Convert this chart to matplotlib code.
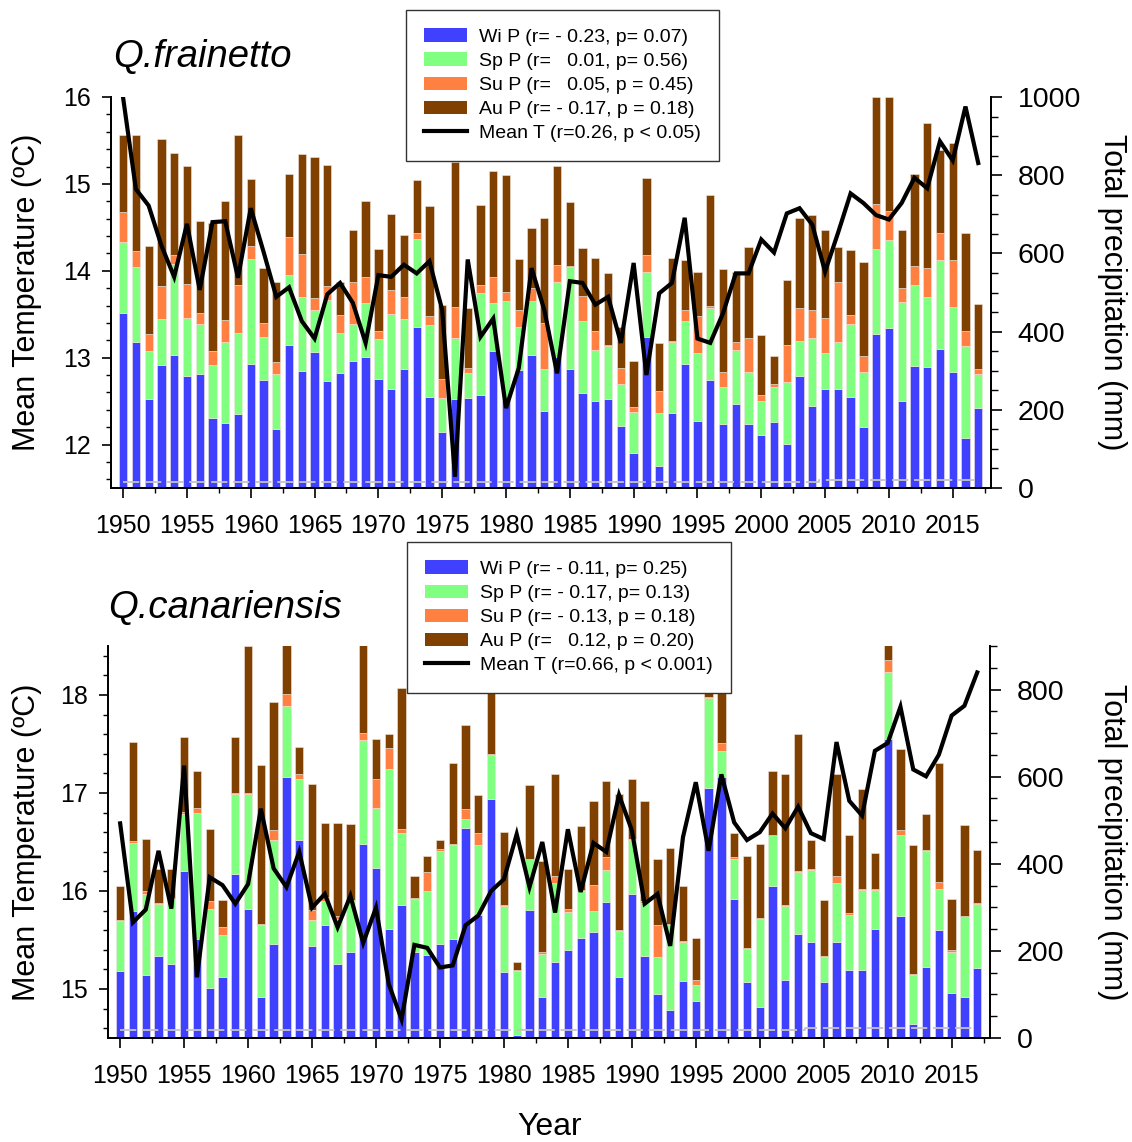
import numpy as np
import matplotlib
matplotlib.use('Agg')
import matplotlib.pyplot as plt
from matplotlib.ticker import MultipleLocator
from matplotlib.patches import Patch
from matplotlib.lines import Line2D

plt.rcParams['font.family'] = ['Liberation Sans', 'DejaVu Sans']

years = np.arange(1950, 2018)

# ---------------- Q. frainetto ----------------
wi_f = [448, 374, 228, 315, 339, 286, 292, 178, 165, 188,
        316, 276, 150, 367, 298, 348, 274, 295, 326, 334,
        280, 254, 304, 411, 234, 144, 227, 231, 237, 350,
        225, 303, 339, 196, 336, 304, 242, 223, 228, 159,
        90, 387, 55, 191, 316, 172, 276, 164, 215, 164,
        136, 170, 112, 286, 210, 253, 253, 233, 157, 393,
        408, 222, 313, 309, 356, 296, 127, 204]
sp_f = [180, 190, 122, 117, 234, 149, 127, 137, 209, 209,
        270, 111, 142, 179, 191, 107, 207, 102, 93, 140,
        101, 190, 128, 225, 182, 87, 157, 62, 261, 124,
        252, 110, 138, 108, 192, 260, 185, 130, 135, 106,
        105, 166, 136, 183, 111, 174, 185, 95, 138, 132,
        87, 89, 158, 90, 174, 91, 121, 186, 139, 218,
        226, 254, 206, 179, 227, 166, 236, 88]
su_f = [77, 43, 43, 85, 23, 87, 29, 35, 56, 122,
        34, 34, 29, 95, 109, 30, 36, 45, 109, 66,
        21, 62, 56, 15, 24, 48, 80, 15, 21, 66,
        24, 41, 34, 117, 42, 4, 64, 49, 3, 43,
        11, 43, 58, 3, 28, 94, 5, 37, 21, 88,
        15, 6, 96, 85, 70, 91, 154, 23, 42, 115,
        74, 36, 49, 74, 68, 121, 39, 12]
au_f = [199, 297, 227, 376, 262, 302, 236, 327, 304, 385,
        170, 141, 207, 162, 256, 361, 309, 86, 132, 194,
        208, 196, 159, 137, 281, 189, 371, 153, 205, 272,
        299, 132, 155, 269, 254, 163, 124, 185, 185, 105,
        120, 196, 121, 210, 128, 113, 283, 263, 179, 233,
        153, 73, 166, 230, 243, 225, 89, 167, 239, 273,
        291, 148, 235, 371, 213, 300, 249, 167]
t_f = [15.99, 14.94, 14.75, 14.29, 13.93, 14.54, 13.78, 14.56, 14.57, 13.92,
       14.72, 14.22, 13.70, 13.81, 13.42, 13.22, 13.73, 13.86, 13.63, 13.17,
       13.95, 13.93, 14.07, 13.97, 14.11, 13.55, 11.63, 14.13, 13.24, 13.45,
       12.42, 12.88, 14.03, 13.55, 12.82, 13.88, 13.86, 13.61, 13.70, 13.17,
       14.09, 12.80, 13.74, 13.86, 14.61, 13.22, 13.17, 13.51, 13.97, 13.97,
       14.36, 14.21, 14.66, 14.72, 14.53, 13.99, 14.43, 14.89, 14.78, 14.64,
       14.59, 14.78, 15.07, 14.95, 15.49, 15.27, 15.89, 15.24]
ref_f_x = [1950, 2004.5, 2004.5, 2017]
ref_f_y = [16, 16, 20, 20]
leg_f = ["Wi P (r= - 0.23, p= 0.07)",
         "Sp P (r=   0.01, p= 0.56)",
         "Su P (r=   0.05, p = 0.45)",
         "Au P (r= - 0.17, p = 0.18)",
         "Mean T (r=0.26, p < 0.05)"]

# ---------------- Q. canariensis ----------------
wi_c = [154, 292, 144, 188, 169, 384, 227, 115, 141, 376,
        296, 94, 215, 599, 455, 211, 260, 169, 198, 445,
        390, 250, 305, 197, 190, 215, 227, 482, 283, 549,
        152, 8, 293, 94, 175, 202, 230, 243, 313, 141,
        330, 188, 100, 64, 132, 84, 574, 599, 320, 128,
        71, 348, 133, 238, 221, 128, 221, 157, 155, 250,
        687, 279, 31, 164, 247, 104, 94, 161]
sp_c = [115, 156, 186, 119, 150, 131, 290, 181, 96, 185,
        265, 166, 240, 163, 140, 60, 55, 105, 117, 240,
        138, 368, 166, 123, 148, 215, 215, 20, 159, 100,
        150, 146, 118, 98, 181, 88, 108, 49, 73, 105,
        125, 123, 86, 195, 89, 37, 206, 61, 92, 77,
        203, 117, 170, 144, 165, 59, 134, 126, 185, 90,
        154, 188, 113, 265, 96, 93, 185, 146]
su_c = [2, 5, 8, 2, 2, 3, 11, 19, 18, 2,
        2, 2, 23, 27, 10, 22, 8, 6, 2, 16,
        66, 48, 9, 2, 44, 4, 3, 23, 29, 2,
        3, 2, 1, 5, 15, 6, 2, 60, 30, 2,
        2, 4, 73, 2, 2, 13, 2, 18, 4, 2,
        2, 2, 2, 2, 2, 2, 16, 3, 3, 3,
        27, 11, 2, 2, 16, 4, 2, 4]
au_c = [77, 227, 119, 80, 67, 173, 84, 165, 62, 127,
        338, 365, 294, 113, 62, 291, 171, 214, 175, 201,
        93, 31, 324, 49, 35, 21, 187, 193, 88, 149,
        167, 18, 170, 210, 234, 93, 146, 193, 175, 313,
        138, 228, 153, 175, 125, 96, 30, 152, 54, 210,
        169, 147, 302, 315, 67, 127, 234, 181, 229, 81,
        34, 185, 297, 84, 273, 118, 207, 121]
t_c = [16.69, 15.68, 15.81, 16.41, 15.82, 17.28, 15.12, 16.14, 16.06, 15.87,
       16.07, 16.84, 16.23, 16.04, 16.40, 15.83, 15.97, 15.63, 15.95, 15.47,
       15.83, 15.05, 14.69, 15.45, 15.42, 15.22, 15.24, 15.65, 15.75, 16.00,
       16.12, 16.58, 16.04, 16.50, 15.78, 16.63, 15.99, 16.49, 16.40, 16.98,
       16.62, 15.87, 15.97, 15.44, 16.55, 17.11, 16.41, 17.19, 16.70, 16.52,
       16.60, 16.79, 16.64, 16.86, 16.59, 16.53, 17.52, 16.92, 16.77, 17.43,
       17.51, 17.88, 17.24, 17.17, 17.39, 17.79, 17.89, 18.23]
ref_c_x = [1950, 2003.5, 2003.5, 2017]
ref_c_y = [19, 19, 23, 23]
leg_c = ["Wi P (r= - 0.11, p= 0.25)",
         "Sp P (r= - 0.17, p= 0.13)",
         "Su P (r= - 0.13, p = 0.18)",
         "Au P (r=   0.12, p = 0.20)",
         "Mean T (r=0.66, p < 0.001)"]

C_WI, C_SP, C_SU, C_AU = '#4040FF', '#80FF80', '#FF8040', '#804000'

W, H = 1132, 1142
fig = plt.figure(figsize=(W / 100, H / 100), dpi=100)


def px_rect(l, t, r, b):
    return [l / W, 1 - b / H, (r - l) / W, (b - t) / H]


def panel(rect, wi, sp, su, au, temp, rx, ry, tlim, tticks, plim, pticks):
    axp = fig.add_axes(rect)
    axt = axp.twinx()
    wi = np.array(wi); sp = np.array(sp); su = np.array(su); au = np.array(au)
    bw = 0.65
    ekw = dict(edgecolor='#f0e6dc', linewidth=0.4)
    axp.bar(years, wi, bw, color=C_WI, **ekw)
    axp.bar(years, sp, bw, bottom=wi, color=C_SP, **ekw)
    axp.bar(years, su, bw, bottom=wi + sp, color=C_SU, **ekw)
    axp.bar(years, au, bw, bottom=wi + sp + su, color=C_AU, **ekw)
    axp.plot(rx, ry, color='#c4c4c4', lw=1.3, ls=(0, (9, 3.2)))
    axt.plot(years, temp, color='black', lw=3.0, solid_joinstyle='miter')

    axp.set_xlim(1949.05, 2018)
    axp.set_ylim(*plim)
    axt.set_ylim(*tlim)

    axp.yaxis.tick_right()
    axp.yaxis.set_label_position('right')
    axt.yaxis.tick_left()
    axt.yaxis.set_label_position('left')

    axp.xaxis.set_major_locator(MultipleLocator(5))
    axp.xaxis.set_minor_locator(MultipleLocator(2.5))
    axp.set_yticks(pticks)
    axp.yaxis.set_minor_locator(MultipleLocator(50))
    axt.set_yticks(tticks)
    axt.yaxis.set_minor_locator(MultipleLocator(0.2))

    for a in (axp, axt):
        a.spines['top'].set_visible(False)
        for s in ('left', 'right', 'bottom'):
            a.spines[s].set_linewidth(1.3)
    axp.tick_params(axis='x', which='major', direction='out', length=7, width=1.2,
                    labelsize=18, pad=12)
    axp.tick_params(axis='x', which='minor', direction='out', length=3.5, width=1.0)
    axp.tick_params(axis='y', which='major', direction='out', length=8, width=1.2,
                    labelsize=20.5, pad=11)
    axp.tick_params(axis='y', which='minor', direction='out', length=4.8, width=1.0)
    axt.tick_params(axis='y', which='major', direction='out', length=6.5, width=1.2,
                    labelsize=18, pad=8)
    axt.tick_params(axis='y', which='minor', direction='out', length=3.5, width=1.0)
    return axp, axt


panel(px_rect(111, 97, 991, 488), wi_f, sp_f, su_f, au_f, t_f, ref_f_x, ref_f_y,
      (11.5, 16.0), [12, 13, 14, 15, 16], (0, 1000), [0, 200, 400, 600, 800, 1000])
panel(px_rect(108, 646, 990, 1038), wi_c, sp_c, su_c, au_c, t_c, ref_c_x, ref_c_y,
      (14.5, 18.5), [15, 16, 17, 18], (0, 900), [0, 200, 400, 600, 800])


def legend(labels, x, y):
    handles = [Patch(facecolor=C_WI, edgecolor='none'),
               Patch(facecolor=C_SP, edgecolor='none'),
               Patch(facecolor=C_SU, edgecolor='none'),
               Patch(facecolor=C_AU, edgecolor='none'),
               Line2D([], [], color='black', lw=3)]
    lg = fig.legend(handles, labels, loc='upper left',
                    bbox_to_anchor=(x / W, 1 - y / H), bbox_transform=fig.transFigure,
                    fontsize=14, frameon=True, fancybox=False, framealpha=1,
                    edgecolor='#333333', borderaxespad=0, borderpad=0.95,
                    labelspacing=0.33, handlelength=2.2, handletextpad=0.6,
                    handleheight=0.7)
    lg.get_frame().set_linewidth(1.0)
    return lg


legend(leg_f, 406, 10)
legend(leg_c, 407, 542)

fig.text(113 / W, 1 - 57 / H, 'Q.frainetto', fontsize=27.5, style='italic',
         ha='left', va='center')
fig.text(108 / W, 1 - 608 / H, 'Q.canariensis', fontsize=27.5, style='italic',
         ha='left', va='center')

for yc in (292, 842):
    fig.text(27 / W, 1 - yc / H, 'Mean Temperature (ºC)', fontsize=22,
             rotation=90, ha='center', va='center')
    fig.text(1112 / W, 1 - yc / H, 'Total precipitation (mm)', fontsize=22,
             rotation=-90, ha='center', va='center')

fig.text(550 / W, 1 - 1127 / H, 'Year', fontsize=23, ha='center', va='center')

fig.savefig('out.png', dpi=100)
